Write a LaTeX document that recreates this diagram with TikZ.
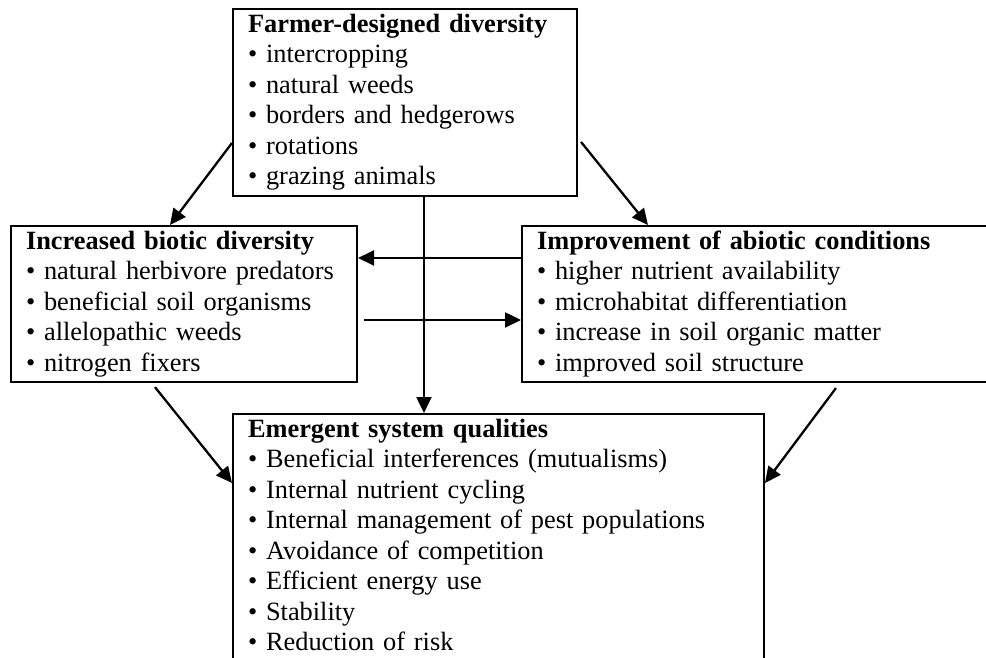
\documentclass[tikz,border=0pt]{standalone}
\usepackage{fontspec}
\setmainfont{Liberation Serif}
\usetikzlibrary{arrows.meta}

\begin{document}
\begin{tikzpicture}[x=0.02cm, y=-0.02cm,
  box/.style={draw, line width=1.2pt, anchor=north west, align=left, inner xsep=0.3cm, inner ysep=1pt, font=\fontsize{15}{17.36}\selectfont},
  arr/.style={line width=1.3pt, -{Triangle[length=0.32cm,width=0.3cm]}}]
\useasboundingbox (0,0) rectangle (986,658);
\clip (0,0) rectangle (986,658);
\node[box, text width=6.28cm] (farmer) at (232,8){\strut\textbf{Farmer-designed diversity}\\
  \textbullet{} intercropping\\ \textbullet{} natural weeds\\ \textbullet{} borders and hedgerows\\
  \textbullet{} rotations\\ \textbullet{} grazing animals\strut};
\node[box, text width=6.32cm] (biotic) at (10,225){\strut\textbf{Increased biotic diversity}\\
  \textbullet{} natural herbivore predators\\ \textbullet{} beneficial soil organisms\\
  \textbullet{} allelopathic weeds\\ \textbullet{} nitrogen fixers\strut};
\node[box, text width=9.18cm] (abiotic) at (521,225){\strut\textbf{Improvement of abiotic conditions}\\
  \textbullet{} higher nutrient availability\\ \textbullet{} microhabitat differentiation\\
  \textbullet{} increase in soil organic matter\\ \textbullet{} improved soil structure\strut};
\node[box, text width=10.02cm] (emergent) at (232,413){\strut\textbf{Emergent system qualities}\\
  \textbullet{} Beneficial interferences (mutualisms)\\ \textbullet{} Internal nutrient cycling\\
  \textbullet{} Internal management of pest populations\\ \textbullet{} Avoidance of competition\\
  \textbullet{} Efficient energy use\\ \textbullet{} Stability\\
  \textbullet{} Reduction of risk\rule[-1cm]{0pt}{0pt}};
\draw[arr]([yshift=-2.7cm]farmer.north west) -- ([xshift=3.2cm]biotic.north west);
\draw[arr]([xshift=0.06cm,yshift=-2.68cm]farmer.north east) -- ([xshift=2.54cm]abiotic.north west);
\draw[arr]([xshift=3.84cm]farmer.south west) -- ([xshift=3.84cm]emergent.north west);
\draw[arr]([yshift=-0.66cm]abiotic.north west) -- ([yshift=-0.66cm]biotic.north east);
\draw[arr]([xshift=0.12cm,yshift=-1.9cm]biotic.north east) -- ([yshift=-1.9cm]abiotic.north west);
\draw[arr]([xshift=2.9cm,yshift=-0.08cm]biotic.south west) -- ([yshift=-1.4cm]emergent.north west);
\draw[arr]([xshift=6.3cm,yshift=-0.1cm]abiotic.south west) -- ([yshift=-1.4cm]emergent.north east);

\end{tikzpicture}
\end{document}
